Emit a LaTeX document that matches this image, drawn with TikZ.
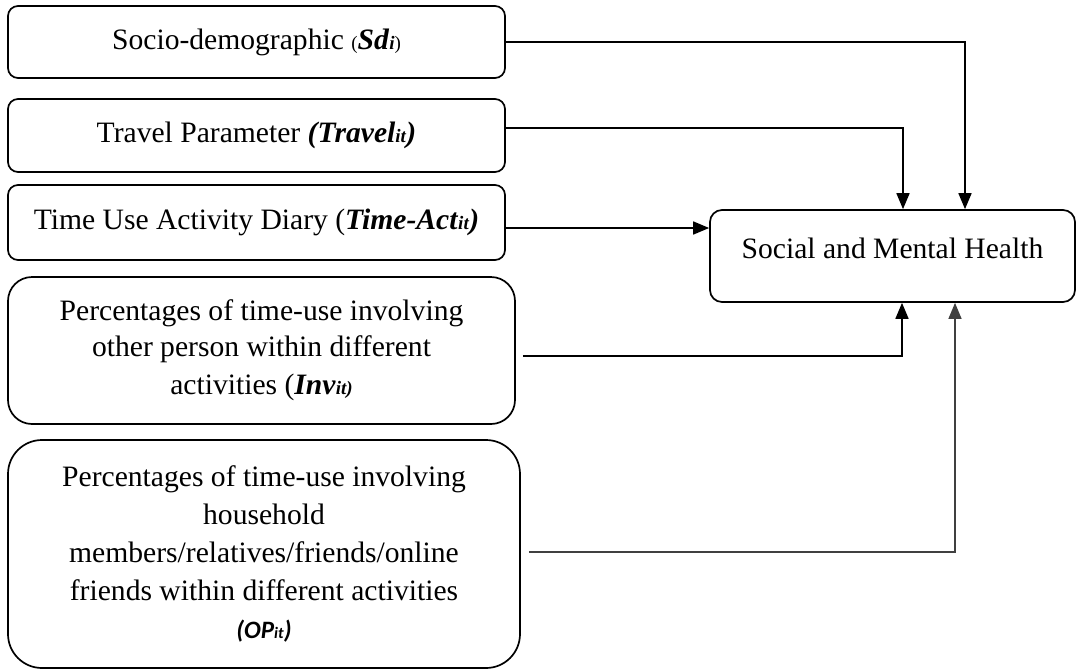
\documentclass[tikz,border=0pt]{standalone}
\usepackage{fontspec}
\setmainfont{Liberation Serif}
\newfontfamily\calib{Carlito}
\usetikzlibrary{arrows.meta}
\newcommand{\subsz}{\fontsize{19}{19}\selectfont}
\begin{document}
\begin{tikzpicture}[x=1pt,y=-1pt,
  box/.style={draw, line width=1.7pt, align=center, inner sep=0pt,
    font=\fontsize{29.6}{37.8}\selectfont},
  conn/.style={line width=1.7pt, -{Triangle[length=16pt,width=13pt]}},
  thinconn/.style={line width=1.2pt, draw=black!75, -{Triangle[length=16pt,width=13pt]}}]
\useasboundingbox (0,0) rectangle (1077,670);
\node[box, rounded corners=10pt, minimum width=497pt, minimum height=72pt] (sd) at (256.5,42)
  {Socio-demographic {\subsz(}\textbf{\textit{Sd}}{\subsz\textbf{\textit{i}})}};
\node[box, rounded corners=10pt, minimum width=497pt, minimum height=73pt] (tr) at (256.5,135.5)
  {Travel Parameter \textbf{\textit{(Travel}}{\subsz\textbf{\textit{it}}}\textbf{\textit{)}}};
\node[box, rounded corners=10pt, minimum width=497pt, minimum height=75pt] (tm) at (256.5,222.5)
  {Time Use Activity Diary (\textbf{\textit{Time-Act}}{\subsz\textbf{\textit{it}}}\textbf{\textit{)}}};
\node[box, rounded corners=24pt, minimum width=507pt, minimum height=147pt] (inv) at (261.5,350.5)
  {\raisebox{-2pt}{Percentages of time-use involving}\\ other person within different\\ activities (\textbf{\textit{Inv}}{\subsz\textbf{\textit{it)}}}};
\node[box, rounded corners=34pt, minimum width=512pt, minimum height=228pt] (op) at (264,554)
  {Percentages of time-use involving\\ household\\ members/relatives/friends/online\\ friends within different activities\\
   {\calib\fontsize{25}{33}\selectfont\textbf{\textit{(OP}}{\fontsize{16}{16}\selectfont\textbf{\textit{it}}}\textbf{\textit{)}}}};
\node[box, rounded corners=12pt, minimum width=365pt, minimum height=92pt] (tgt) at (892.5,256)
  {\raisebox{15pt}{Social and Mental Health}};
\coordinate (sdx) at (965,42);
\coordinate (trx) at (903,128);
\coordinate (tmy) at (600,228);
\coordinate (invx) at (902,356);
\coordinate (opx) at (955,552);
\draw[conn] (sd.east) -- (sdx) -- (sdx |- tgt.north);
\draw[conn] (tr.east |- trx) -- (trx) -- (trx |- tgt.north);
\draw[conn] (tm.east |- tmy) -- (tgt.west |- tmy);
\draw[conn] ([xshift=7pt]inv.east |- invx) -- (invx) -- (invx |- tgt.south);
\draw[thinconn] ([xshift=8pt]op.east |- opx) -- (opx) -- (opx |- tgt.south);
\end{tikzpicture}
\end{document}
